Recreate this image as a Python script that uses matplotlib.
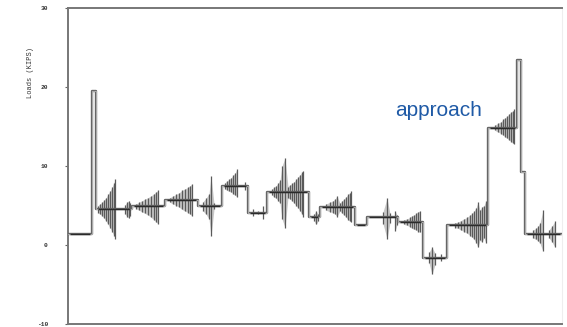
import matplotlib
matplotlib.use("Agg")
import matplotlib.pyplot as plt

# ---- data (x in horizontal chart units, y in KIPS) ----
step_x = [68, 92, 96, 132, 165, 198, 222, 248, 267, 309, 320, 355, 367,
          398, 423, 447, 488, 517, 521, 525, 562]
step_y = [1.4, 19.5, 4.5, 4.9, 5.7, 4.9, 7.5, 4.1, 6.7, 3.5, 4.8, 2.5, 3.5,
          2.9, -1.6, 2.5, 14.8, 23.4, 9.2, 1.4, 1.4]

# oscillation bursts: spike x, spike top, spike bottom
burst_a_x = [98, 100, 102, 104, 106, 108, 110, 112, 114, 115]
burst_a_hi = [5.0, 5.2, 5.4, 5.7, 6.0, 6.4, 6.8, 7.3, 7.9, 8.3]
burst_a_lo = [4.1, 3.9, 3.7, 3.4, 3.0, 2.6, 2.2, 1.7, 1.2, 0.8]

burst_b_x = [125, 127, 129, 130]
burst_b_hi = [5.1, 5.4, 5.6, 5.3]
burst_b_lo = [3.9, 3.6, 3.4, 3.7]

burst_c_x = [136, 139, 142, 145, 148, 151, 154, 156, 158]
burst_c_hi = [5.2, 5.4, 5.6, 5.8, 6.0, 6.2, 6.5, 6.7, 6.9]
burst_c_lo = [4.6, 4.4, 4.2, 4.0, 3.8, 3.5, 3.2, 2.9, 2.7]

burst_d_x = [170, 173, 176, 179, 182, 185, 188, 190, 192]
burst_d_hi = [6.0, 6.2, 6.4, 6.6, 6.9, 7.1, 7.3, 7.5, 7.7]
burst_d_lo = [5.4, 5.2, 5.0, 4.8, 4.5, 4.3, 4.1, 3.9, 3.7]

burst_e_x = [203, 206, 209, 211, 214]
burst_e_hi = [5.5, 5.9, 6.5, 8.7, 5.3]
burst_e_lo = [4.3, 3.9, 3.3, 1.1, 4.5]

burst_f_x = [225, 227, 229, 231, 233, 235, 237, 245]
burst_f_hi = [7.9, 8.1, 8.3, 8.5, 8.8, 9.1, 9.6, 8.0]
burst_f_lo = [7.1, 6.9, 6.8, 6.7, 6.5, 6.3, 6.1, 6.9]

burst_g_x = [253, 258, 263]
burst_g_hi = [4.5, 4.3, 4.9]
burst_g_lo = [3.7, 3.9, 3.3]

burst_h_x = [272, 274, 276, 278, 280, 282, 285, 288, 290, 292, 294, 296, 298, 300, 302, 303]
burst_h_hi = [7.1, 7.3, 7.5, 7.8, 8.2, 10.0, 11.0, 7.4, 7.6, 7.8, 8.0, 8.3, 8.6, 8.9, 9.2, 9.4]
burst_h_lo = [6.3, 6.1, 5.9, 5.6, 5.3, 3.3, 2.2, 6.0, 5.8, 5.6, 5.3, 5.0, 4.7, 4.3, 3.9, 3.5]

burst_i_x = [314, 316, 318]
burst_i_hi = [3.9, 4.3, 3.9]
burst_i_lo = [3.1, 2.6, 3.0]

burst_j_x = [326, 330, 333, 335, 337, 340, 342, 344, 346, 348, 350, 351]
burst_j_hi = [5.2, 5.4, 5.6, 5.8, 6.2, 5.3, 5.6, 5.8, 6.1, 6.4, 6.6, 6.8]
burst_j_lo = [4.4, 4.2, 4.1, 3.9, 3.6, 4.3, 4.0, 3.8, 3.5, 3.2, 3.0, 2.9]

burst_k_x = [383, 387, 390, 395, 397]
burst_k_hi = [4.2, 5.9, 4.0, 4.3, 3.8]
burst_k_lo = [2.7, 0.8, 2.8, 1.8, 2.5]

burst_l_x = [404, 407, 410, 412, 414, 416, 418, 420]
burst_l_hi = [3.2, 3.3, 3.5, 3.7, 3.8, 4.0, 4.2, 4.3]
burst_l_lo = [2.6, 2.5, 2.3, 2.1, 2.0, 1.9, 1.7, 1.6]

burst_m_x = [429, 432, 435, 441]
burst_m_hi = [-0.9, -0.3, -1.0, -1.2]
burst_m_lo = [-2.3, -3.7, -2.5, -2.0]

burst_n_x = [455, 458, 461, 464, 467, 470, 472, 474, 476, 478, 480, 482, 484, 486]
burst_n_hi = [2.8, 2.9, 3.1, 3.3, 3.5, 3.8, 4.0, 4.3, 4.7, 5.4, 4.4, 4.8, 5.0, 5.6]
burst_n_lo = [2.2, 2.1, 1.9, 1.7, 1.5, 1.2, 1.0, 0.7, 0.3, -0.3, 0.6, 0.4, 0.9, 0.2]

burst_o_x = [495, 498, 501, 503, 505, 507, 509, 511, 513, 514]
burst_o_hi = [15.2, 15.4, 15.6, 15.9, 16.1, 16.3, 16.6, 16.8, 17.0, 17.2]
burst_o_lo = [14.5, 14.3, 14.1, 13.9, 13.7, 13.5, 13.3, 13.1, 12.9, 12.8]

burst_p_x = [533, 536, 538, 540, 543, 549, 552, 555]
burst_p_hi = [1.9, 2.1, 2.4, 2.8, 4.4, 1.9, 2.4, 3.0]
burst_p_lo = [0.9, 0.7, 0.5, 0.2, -0.8, 0.9, 0.4, -0.3]

bursts = [
    (burst_a_x, burst_a_hi, burst_a_lo), (burst_b_x, burst_b_hi, burst_b_lo),
    (burst_c_x, burst_c_hi, burst_c_lo), (burst_d_x, burst_d_hi, burst_d_lo),
    (burst_e_x, burst_e_hi, burst_e_lo), (burst_f_x, burst_f_hi, burst_f_lo),
    (burst_g_x, burst_g_hi, burst_g_lo), (burst_h_x, burst_h_hi, burst_h_lo),
    (burst_i_x, burst_i_hi, burst_i_lo), (burst_j_x, burst_j_hi, burst_j_lo),
    (burst_k_x, burst_k_hi, burst_k_lo), (burst_l_x, burst_l_hi, burst_l_lo),
    (burst_m_x, burst_m_hi, burst_m_lo), (burst_n_x, burst_n_hi, burst_n_lo),
    (burst_o_x, burst_o_hi, burst_o_lo), (burst_p_x, burst_p_hi, burst_p_lo),
]

y_ticks = [-10, 0, 10, 20, 30]
y_tick_labels = ["-10", "0", "10", "20", "30"]
y_label = "Loads (KIPS)"
annotation = "approach"

# ---- figure ----
fig = plt.figure(figsize=(5.67, 3.27), dpi=100)
ax = fig.add_axes([68 / 567, 3 / 327, 494 / 567, 316 / 327])

# bursts: shaded envelope (only between close spikes) + vertical spikes
for bx, bhi, blo in bursts:
    for j in range(len(bx) - 1):
        if bx[j + 1] - bx[j] <= 4:
            ax.fill_between(bx[j:j + 2], blo[j:j + 2], bhi[j:j + 2],
                            color="#9a9a9a", alpha=0.55, linewidth=0,
                            zorder=1)
    ax.vlines(bx, blo, bhi, color="#5a5a5a", linewidth=0.9, zorder=2)

# step trace (drawn twice for the doubled outline look)
ax.step(step_x, step_y, where="post", color="#666666", linewidth=1.7, zorder=3)
ax.step(step_x, step_y, where="post", color="#e0e0e0", linewidth=0.4, zorder=4)

# darker centre lines on the plateaus
for i in range(len(step_x) - 1):
    if step_x[i + 1] - step_x[i] > 8:
        ax.hlines(step_y[i], step_x[i] + 2, step_x[i + 1] - 2,
                  color="#2a2a2a", linewidth=1.0, zorder=5)

ax.set_xlim(68, 562)
ax.set_ylim(-10, 30)
ax.set_xticks([])
ax.set_yticks(y_ticks)
ax.set_yticklabels(y_tick_labels, family="Liberation Mono", fontsize=4.5,
                   color="#333333", fontweight="bold")
ax.tick_params(axis="y", length=2.5, width=0.8, color="#666666", pad=12)

for side in ["left", "top", "bottom"]:
    ax.spines[side].set_color("#777777")
    ax.spines[side].set_linewidth(1.4)
ax.spines["right"].set_color("#eeeeee")
ax.spines["right"].set_linewidth(0.8)

fig.text(31 / 567, 1 - 72 / 327, y_label, rotation=90, ha="center",
         va="center", family="Liberation Mono", fontsize=5, color="#333333")

ax.text(395, 16.3, annotation, family="Liberation Sans", fontsize=15,
        color="#1f5aa6", ha="left", va="baseline")

fig.savefig("out.png", dpi=100)
